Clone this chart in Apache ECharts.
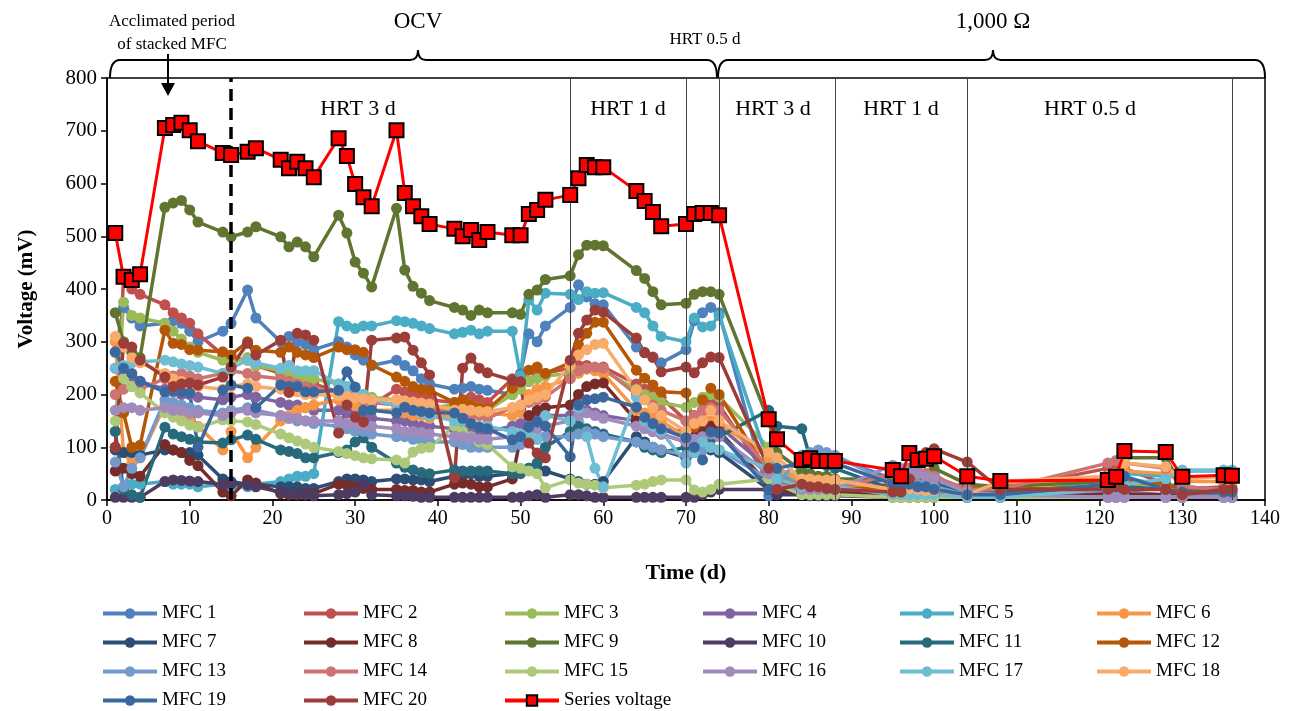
<!DOCTYPE html>
<html>
<head>
<meta charset="utf-8">
<script src="https://cdn.jsdelivr.net/npm/echarts@6/dist/echarts.min.js"></script>
<style>
  html, body { margin: 0; padding: 0; background: #fff; }
  #chart { width: 1302px; height: 711px; }
</style>
</head>
<body>
<div id="chart"></div>
<script>
// sampling days (d)
const days = [1, 2, 3, 4, 7, 8, 9, 10, 11, 14, 15, 17, 18, 21, 22, 23, 24, 25, 28, 29, 30, 31, 32,
  35, 36, 37, 38, 39, 42, 43, 44, 45, 46, 49, 50, 51, 52, 53, 56, 57, 58, 59, 60, 64, 65, 66, 67,
  70, 71, 72, 73, 74, 80, 81, 84, 85, 86, 87, 88, 95, 96, 97, 98, 99, 100, 104, 108, 121, 122, 123,
  128, 130, 135, 136]

// voltage (mV) of each MFC and of the stack
const mfc1 = [280, 365, 345, 330, 335, 340, 335, 320, 300, 320, 335, 398, 345, 300, 310, 300, 295, 285, 300, 290, 275, 265, 255, 265, 255, 245, 230, 220, 210, 212, 215, 210, 208, 200, 240, 315, 300, 330, 365, 408, 385, 372, 370, 290, 280, 270, 260, 285, 340, 355, 365, 355, 8, 30, 60, 70, 80, 85, 80, 40, 35, 45, 40, 45, 50, 5, 10, 30, 35, 40, 30, 25, 20, 20]
const mfc2 = [100, 420, 400, 390, 370, 355, 345, 335, 315, 275, 270, 265, 255, 240, 235, 230, 225, 220, 205, 195, 190, 185, 180, 210, 205, 200, 195, 190, 185, 190, 195, 190, 185, 230, 220, 225, 235, 240, 250, 255, 255, 250, 252, 220, 210, 200, 195, 150, 160, 170, 190, 180, 40, 20, 20, 25, 30, 25, 20, 30, 40, 50, 45, 40, 35, 25, 20, 60, 70, 60, 30, 20, 25, 25]
const mfc3 = [130, 375, 350, 345, 335, 320, 305, 290, 280, 265, 260, 270, 255, 245, 240, 235, 230, 230, 220, 215, 205, 200, 195, 190, 185, 180, 175, 175, 180, 185, 180, 175, 170, 200, 210, 225, 230, 235, 240, 245, 248, 246, 245, 210, 200, 195, 185, 176, 185, 195, 200, 195, 100, 60, 40, 35, 30, 30, 25, 20, 20, 25, 20, 20, 20, 10, 15, 20, 25, 30, 25, 15, 20, 20]
const mfc4 = [250, 240, 235, 225, 210, 205, 200, 200, 195, 190, 195, 200, 195, 185, 180, 180, 175, 170, 170, 165, 160, 160, 155, 150, 150, 145, 140, 140, 135, 135, 130, 130, 130, 140, 145, 150, 155, 160, 160, 165, 170, 165, 160, 150, 145, 140, 135, 130, 135, 140, 145, 140, 60, 40, 30, 30, 25, 25, 25, 40, 50, 55, 50, 45, 40, 10, 10, 15, 15, 15, 10, 10, 10, 10]
const mfc5 = [20, 25, 30, 30, 35, 30, 30, 30, 25, 30, 25, 25, 30, 35, 40, 45, 45, 50, 338, 330, 325, 330, 330, 340, 338, 335, 330, 325, 315, 318, 322, 315, 320, 320, 235, 380, 360, 392, 390, 380, 395, 392, 393, 365, 355, 330, 310, 300, 345, 328, 330, 350, 70, 50, 30, 30, 25, 25, 25, 10, 10, 15, 10, 10, 10, 5, 5, 40, 45, 50, 45, 55, 55, 55]
const mfc6 = [300, 90, 70, 80, 180, 170, 160, 150, 140, 95, 130, 80, 100, 150, 160, 170, 175, 180, 190, 185, 180, 175, 170, 170, 165, 160, 160, 155, 160, 165, 170, 175, 165, 160, 165, 200, 210, 215, 230, 240, 250, 245, 240, 170, 165, 160, 150, 120, 130, 140, 150, 145, 80, 60, 35, 30, 30, 30, 30, 15, 15, 20, 20, 15, 15, 10, 30, 40, 45, 55, 50, 35, 35, 35]
const mfc7 = [95, 90, 90, 85, 95, 95, 90, 90, 85, 40, 35, 30, 30, 25, 25, 25, 22, 22, 35, 40, 40, 38, 35, 40, 40, 38, 38, 35, 45, 45, 50, 45, 45, 50, 55, 60, 60, 55, 40, 35, 30, 30, 35, 120, 110, 100, 95, 80, 90, 100, 95, 90, 20, 10, 20, 20, 20, 15, 15, 10, 10, 10, 10, 10, 10, 5, 5, 10, 10, 10, 10, 5, 5, 5]
const mfc8 = [55, 60, 50, 45, 105, 95, 90, 75, 65, 15, 8, 38, 32, 12, 10, 10, 12, 12, 30, 28, 25, 22, 20, 20, 18, 18, 15, 15, 30, 32, 30, 25, 25, 40, 120, 160, 170, 175, 180, 200, 215, 220, 222, 150, 140, 130, 125, 110, 120, 130, 140, 130, 30, 20, 15, 15, 12, 12, 12, 10, 10, 10, 10, 10, 10, 5, 5, 10, 10, 10, 10, 5, 5, 5]
const mfc9 = [355, 300, 280, 270, 555, 563, 568, 550, 527, 508, 499, 508, 518, 499, 480, 489, 480, 461, 540, 506, 451, 430, 404, 553, 436, 405, 392, 378, 365, 360, 350, 360, 355, 355, 352, 390, 398, 418, 425, 465, 483, 483, 482, 435, 420, 395, 370, 373, 390, 395, 395, 390, 150, 90, 55, 50, 45, 45, 40, 40, 35, 40, 45, 50, 60, 30, 25, 35, 50, 80, 80, 25, 20, 20]
const mfc10 = [5, 5, 5, 5, 35, 38, 37, 36, 35, 30, 30, 28, 25, 15, 12, 12, 10, 8, 10, 12, 15, 30, 10, 8, 8, 7, 5, 5, 5, 5, 5, 5, 5, 5, 5, 8, 10, 5, 10, 10, 8, 5, 5, 5, 5, 5, 5, 5, 5, 10, 15, 20, 20, 10, 10, 8, 8, 8, 8, 5, 5, 5, 5, 5, 5, 5, 5, 5, 5, 5, 5, 5, 5, 5]
const mfc11 = [130, 20, 10, 5, 138, 125, 120, 115, 110, 108, 114, 123, 115, 95, 92, 88, 80, 80, 90, 95, 110, 118, 100, 70, 62, 57, 52, 50, 57, 55, 55, 55, 55, 50, 50, 60, 70, 100, 130, 140, 135, 130, 125, 110, 100, 95, 90, 100, 110, 120, 115, 120, 170, 140, 135, 80, 70, 65, 60, 20, 20, 25, 25, 30, 30, 15, 15, 20, 20, 25, 20, 15, 15, 15]
const mfc12 = [225, 165, 100, 104, 322, 297, 295, 285, 284, 281, 275, 300, 284, 280, 290, 280, 275, 270, 290, 285, 285, 280, 256, 233, 225, 215, 210, 208, 185, 190, 180, 175, 172, 212, 224, 246, 252, 240, 260, 294, 316, 337, 337, 246, 231, 218, 205, 203, 138, 190, 212, 200, 50, 35, 25, 25, 20, 20, 20, 25, 30, 40, 45, 50, 40, 20, 20, 25, 30, 35, 30, 20, 20, 20]
const mfc13 = [72, 25, 60, 80, 190, 185, 180, 175, 170, 165, 170, 175, 170, 160, 155, 150, 150, 145, 140, 135, 130, 130, 125, 120, 120, 115, 115, 110, 110, 105, 100, 100, 100, 100, 105, 110, 115, 120, 120, 125, 130, 125, 120, 110, 105, 100, 95, 85, 90, 95, 100, 95, 40, 30, 85, 90, 95, 90, 85, 30, 30, 35, 30, 30, 25, 10, 5, 5, 5, 5, 5, 5, 5, 5]
const mfc14 = [200, 210, 215, 210, 230, 235, 240, 235, 230, 240, 245, 240, 235, 230, 225, 220, 215, 210, 205, 200, 195, 190, 185, 180, 180, 175, 175, 170, 170, 165, 160, 160, 155, 175, 180, 185, 190, 195, 230, 245, 250, 252, 250, 200, 190, 180, 170, 150, 160, 170, 175, 170, 60, 40, 30, 25, 25, 25, 20, 50, 55, 60, 55, 50, 45, 20, 20, 70, 75, 70, 60, 25, 20, 20]
const mfc15 = [150, 230, 215, 203, 165, 157, 150, 142, 138, 152, 150, 148, 143, 125, 118, 112, 106, 100, 92, 88, 84, 80, 78, 76, 70, 91, 98, 100, 140, 130, 120, 110, 105, 63, 60, 55, 50, 23, 38, 32, 30, 28, 23, 28, 30, 35, 38, 38, 19, 15, 20, 30, 40, 30, 10, 10, 10, 10, 10, 5, 5, 5, 5, 5, 5, 5, 5, 5, 5, 5, 5, 5, 5, 5]
const mfc16 = [170, 175, 175, 170, 175, 170, 170, 165, 165, 160, 165, 170, 165, 160, 155, 155, 150, 150, 150, 145, 145, 140, 140, 135, 130, 130, 128, 125, 120, 120, 118, 115, 115, 120, 125, 130, 135, 140, 150, 160, 165, 160, 155, 140, 135, 130, 125, 110, 115, 120, 125, 120, 50, 30, 20, 20, 20, 20, 20, 66, 60, 55, 50, 45, 40, 15, 10, 5, 5, 5, 5, 5, 5, 5]
const mfc17 = [250, 255, 260, 262, 265, 262, 258, 255, 252, 240, 250, 265, 260, 250, 255, 245, 245, 245, 220, 215, 210, 200, 190, 180, 175, 170, 165, 160, 150, 150, 145, 140, 140, 130, 125, 120, 115, 160, 150, 175, 120, 60, 25, 195, 150, 140, 130, 70, 90, 110, 100, 95, 60, 40, 25, 25, 25, 25, 25, 10, 10, 10, 10, 10, 10, 5, 5, 20, 25, 30, 40, 57, 57, 57]
const mfc18 = [310, 290, 270, 260, 240, 230, 225, 220, 215, 210, 215, 220, 215, 210, 205, 205, 200, 200, 198, 196, 194, 192, 190, 190, 188, 186, 184, 182, 170, 172, 170, 168, 168, 175, 180, 190, 195, 200, 255, 275, 285, 295, 297, 208, 190, 175, 160, 130, 145, 150, 170, 150, 90, 80, 40, 40, 38, 38, 38, 20, 20, 22, 20, 18, 18, 10, 35, 45, 50, 70, 63, 40, 45, 45]
const mfc19 = [281, 250, 240, 225, 205, 208, 205, 203, 100, 208, 218, 212, 175, 218, 215, 215, 205, 205, 208, 243, 214, 170, 170, 165, 176, 170, 168, 165, 165, 155, 145, 138, 135, 114, 120, 138, 148, 140, 82, 180, 190, 192, 195, 176, 157, 145, 135, 118, 100, 76, 129, 127, 20, 60, 70, 75, 75, 70, 70, 30, 25, 30, 25, 25, 20, 10, 10, 30, 35, 45, 20, 15, 15, 15]
const mfc20 = [100, 297, 290, 265, 233, 215, 220, 222, 218, 233, 252, 297, 275, 303, 204, 316, 313, 303, 127, 180, 157, 148, 303, 307, 309, 284, 260, 237, 42, 250, 269, 250, 241, 227, 224, 108, 89, 80, 265, 316, 341, 360, 356, 307, 279, 271, 243, 252, 241, 260, 271, 270, 60, 20, 30, 25, 25, 22, 20, 15, 15, 40, 80, 90, 97, 72, 20, 20, 25, 20, 20, 10, 20, 20]
const seriesVoltage = [506, 423, 417, 428, 705, 711, 715, 701, 680, 658, 654, 660, 667, 645, 629, 641, 629, 612, 686, 652, 599, 574, 557, 701, 582, 557, 538, 523, 514, 500, 512, 493, 508, 502, 502, 542, 550, 569, 578, 610, 635, 631, 631, 586, 567, 546, 519, 523, 542, 544, 544, 540, 153, 115, 76, 79, 74, 74, 74, 57, 45, 89, 76, 78, 83, 45, 36, 38, 44, 93, 91, 44, 47, 46]

// phase boundaries (d)
const hrtLines = [56, 70, 74, 88, 104, 136]
const acclimEnd = 15

const mfcData = [mfc1, mfc2, mfc3, mfc4, mfc5, mfc6, mfc7, mfc8, mfc9, mfc10,
  mfc11, mfc12, mfc13, mfc14, mfc15, mfc16, mfc17, mfc18, mfc19, mfc20]
const mfcColors = ['#4F81BD', '#C0504D', '#9BBB59', '#8064A2', '#4BACC6', '#F79646', '#2C4D75',
  '#772C2A', '#5F7530', '#4D3B62', '#276A7C', '#B65708', '#729ACA', '#CD7371', '#AFC97A',
  '#A08BBC', '#6FBDD3', '#F9AB6B', '#3A689E', '#9D3D3A']

const font = 'Liberation Serif'
const pairs = (vals) => days.map((d, i) => [d, vals[i]])

const series = mfcData.map((vals, i) => ({
  name: 'MFC ' + (i + 1),
  type: 'line',
  data: pairs(vals),
  symbol: 'circle',
  symbolSize: 11,
  color: mfcColors[i],
  lineStyle: { width: 3.5, color: mfcColors[i] },
  itemStyle: { color: mfcColors[i] }
}))

series.push({
  name: 'Series voltage',
  type: 'line',
  data: pairs(seriesVoltage),
  symbol: 'rect',
  symbolSize: 14,
  color: '#FF0000',
  lineStyle: { width: 3, color: '#FF0000' },
  itemStyle: { color: '#FF0000', borderColor: '#000', borderWidth: 2 },
  z: 5,
  markLine: {
    silent: true,
    symbol: ['none', 'none'],
    label: { show: false },
    animation: false,
    data: hrtLines.map((x) => ({ xAxis: x, lineStyle: { color: '#444', width: 1, type: 'solid' } }))
      .concat([{ xAxis: acclimEnd, lineStyle: { color: '#000', width: 3.5, type: [12, 7] } }])
  }
})

// legend laid out in 6 columns
const cols = [[1, 7, 13, 19], [2, 8, 14, 20], [3, 9, 15, 'S'], [4, 10, 16], [5, 11, 17], [6, 12, 18]]
const colLeft = [101, 302, 503, 701, 898, 1095]
const legends = cols.map((c, i) => ({
  orient: 'vertical',
  left: colLeft[i],
  top: 604,
  height: 150,
  padding: 0,
  itemWidth: 54,
  itemHeight: 13,
  itemGap: 10,
  lineStyle: { width: 4 },
  textStyle: { fontFamily: font, fontSize: 19, color: '#000' },
  data: c.map((n) => (n === 'S' ? 'Series voltage' : 'MFC ' + n))
}))

const txt = (x, y, t, size) => ({
  type: 'text', x: x, y: y,
  style: { text: t, font: size + 'px "' + font + '"', fill: '#000', textAlign: 'center', textVerticalAlign: 'middle' }
})
const seg = (x1, y1, x2, y2) => ({
  type: 'line', shape: { x1: x1, y1: y1, x2: x2, y2: y2 }, style: { stroke: '#000', lineWidth: 2 }
})
const curve = (x1, y1, cx, cy, x2, y2) => ({
  type: 'bezierCurve', shape: { x1: x1, y1: y1, cpx1: cx, cpy1: cy, x2: x2, y2: y2 },
  style: { stroke: '#000', lineWidth: 2, fill: null }
})
// curly brace from xa to xb with the tip at xm
const brace = (xa, xm, xb) => [
  curve(xa, 78, xa, 60, xa + 10, 60),
  seg(xa + 10, 60, xm - 8, 60),
  curve(xm - 8, 60, xm, 60, xm, 50),
  curve(xm, 50, xm, 60, xm + 8, 60),
  seg(xm + 8, 60, xb - 10, 60),
  curve(xb - 10, 60, xb, 60, xb, 78)
]

const chart = echarts.init(document.getElementById('chart'))
chart.setOption({
  animation: false,
  backgroundColor: '#fff',
  grid: { left: 107, right: 37, top: 78, bottom: 211, show: true, borderColor: '#000', borderWidth: 1.5 },
  legend: legends,
  xAxis: {
    type: 'value', min: 0, max: 140, interval: 10,
    name: 'Time (d)', nameLocation: 'middle', nameGap: 62,
    nameTextStyle: { fontFamily: font, fontSize: 22, fontWeight: 'bold', color: '#000' },
    axisLine: { lineStyle: { color: '#000', width: 1.5 } },
    axisTick: { show: true, inside: false, length: 6, lineStyle: { color: '#000', width: 1.5 } },
    axisLabel: { fontFamily: font, fontSize: 20, color: '#000', margin: 9 },
    splitLine: { show: false }
  },
  yAxis: {
    type: 'value', min: 0, max: 800, interval: 100,
    name: 'Voltage (mV)', nameLocation: 'middle', nameGap: 70, nameRotate: 90,
    nameTextStyle: { fontFamily: font, fontSize: 21, fontWeight: 'bold', color: '#000' },
    axisLine: { show: true, lineStyle: { color: '#000', width: 1.5 } },
    axisTick: { show: true, inside: false, length: 6, lineStyle: { color: '#000', width: 1.5 } },
    axisLabel: { fontFamily: font, fontSize: 21, color: '#000', margin: 10 },
    splitLine: { show: false }
  },
  series: series,
  graphic: [
    txt(172, 22, 'Acclimated period', 17),
    txt(172, 45, 'of stacked MFC', 17),
    txt(418, 22, 'OCV', 23),
    txt(705, 40, 'HRT 0.5 d', 17),
    txt(993, 22, '1,000 Ω', 23),
    txt(358, 109, 'HRT 3 d', 22),
    txt(628, 109, 'HRT 1 d', 22),
    txt(773, 109, 'HRT 3 d', 22),
    txt(901, 109, 'HRT 1 d', 22),
    txt(1090, 109, 'HRT 0.5 d', 22),
    seg(168, 54, 168, 84),
    { type: 'polygon', shape: { points: [[161, 83], [175, 83], [168, 96]] }, style: { fill: '#000' } }
  ].concat(brace(110, 418, 717), brace(718, 993, 1265))
})
</script>
</body>
</html>
